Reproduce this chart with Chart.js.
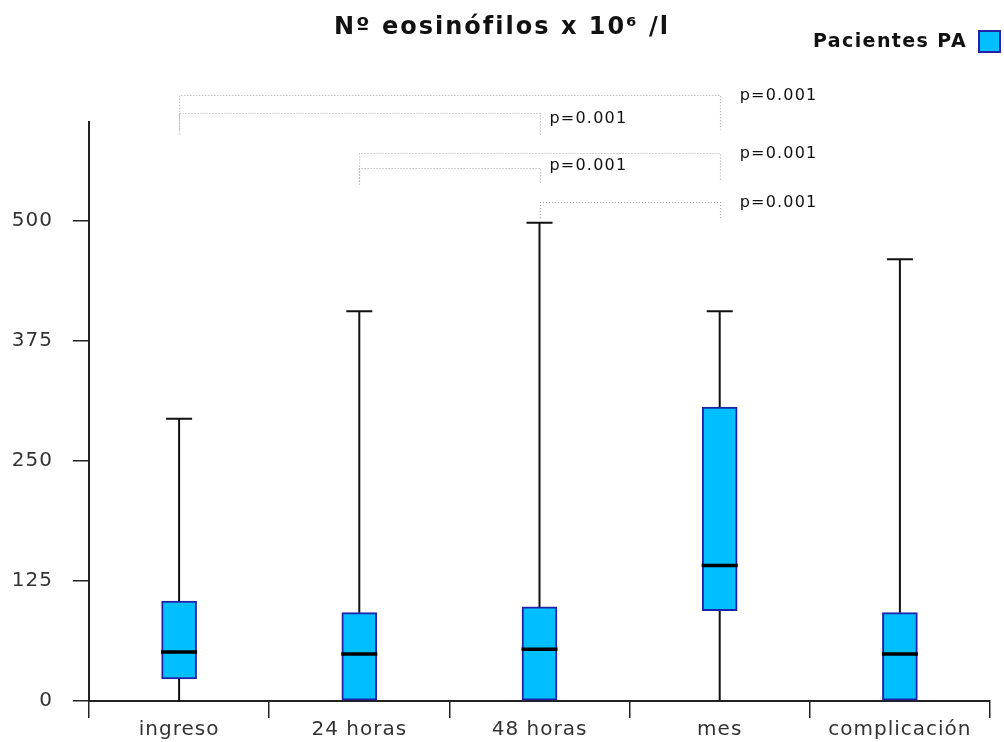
<!DOCTYPE html>
<html><head><meta charset="utf-8">
<script src="https://cdn.jsdelivr.net/npm/chart.js@4/dist/chart.umd.min.js"></script>
<style>html,body{margin:0;padding:0;background:#fff}#wrap{width:1004px;height:742px;position:relative}</style>
</head><body><div id="wrap"><canvas id="c"></canvas></div>
<script>
// ---- data ----
const categories = ['ingreso', '24 horas', '48 horas', 'mes', 'complicación'];
const whiskerLow  = [0, 0, 0, 0, 0];
const q1          = [23, 0, 0, 94, 0];
const median      = [51, 49, 54, 141, 49];
const q3          = [104, 92, 98, 306, 92];
const whiskerHigh = [294, 406, 498, 406, 460];
const yTickValues = [0, 125, 250, 375, 500];
const yMax = 603;
const seriesName = 'Pacientes PA';
const titleText = 'Nº eosinófilos x 10⁶ /l';
// significance comparisons (category index from/to, bracket level in y units, foot level, label)
const compFrom  = [0, 0, 1, 1, 2];
const compTo    = [3, 2, 3, 2, 3];
const compLevel = [631, 612, 571, 555, 520];
const compFoot  = [595, 590, 541, 538, 503];
const compLabel = ['p=0.001', 'p=0.001', 'p=0.001', 'p=0.001', 'p=0.001'];

const FONT = '"DejaVu Sans", Verdana, sans-serif';
const BOX_FILL = '#00bfff';
const BOX_EDGE = '#2222a8';

const boxPlugin = {
  id: 'boxExtras',
  beforeDraw(chart) {
    chart.ctx.letterSpacing = '1px';
  },
  beforeDatasetsDraw(chart) {
    const ctx = chart.ctx, xs = chart.scales.x, ys = chart.scales.y;
    ctx.save();
    ctx.strokeStyle = '#111';
    ctx.lineWidth = 2;
    for (let i = 0; i < categories.length; i++) {
      const x = xs.getPixelForValue(i);
      ctx.beginPath();
      ctx.moveTo(x, ys.getPixelForValue(whiskerHigh[i]));
      ctx.lineTo(x, ys.getPixelForValue(q3[i]));
      ctx.moveTo(x, ys.getPixelForValue(q1[i]));
      ctx.lineTo(x, ys.getPixelForValue(whiskerLow[i]));
      const yt = ys.getPixelForValue(whiskerHigh[i]);
      ctx.moveTo(x - 13, yt);
      ctx.lineTo(x + 13, yt);
      ctx.stroke();
    }
    ctx.restore();
  },
  afterDatasetsDraw(chart) {
    const ctx = chart.ctx, xs = chart.scales.x, ys = chart.scales.y;
    ctx.save();
    ctx.strokeStyle = '#000';
    ctx.lineWidth = 3.5;
    for (let i = 0; i < categories.length; i++) {
      const x = xs.getPixelForValue(i);
      const y = ys.getPixelForValue(median[i]);
      ctx.beginPath();
      ctx.moveTo(x - 18, y);
      ctx.lineTo(x + 18, y);
      ctx.stroke();
    }
    // significance brackets
    ctx.strokeStyle = '#a8a8a8';
    ctx.lineWidth = 1.2;
    ctx.setLineDash([1, 2]);
    for (let k = 0; k < compFrom.length; k++) {
      const xa = Math.round(xs.getPixelForValue(compFrom[k])) + 0.5;
      const xb = Math.round(xs.getPixelForValue(compTo[k])) + 0.5;
      const yl = Math.round(ys.getPixelForValue(compLevel[k])) + 0.5;
      const yf = ys.getPixelForValue(compFoot[k]);
      ctx.beginPath();
      ctx.moveTo(xa, yf); ctx.lineTo(xa, yl); ctx.lineTo(xb, yl); ctx.lineTo(xb, yf);
      ctx.stroke();
    }
    ctx.setLineDash([]);
    ctx.fillStyle = '#111';
    ctx.textBaseline = 'middle';
    ctx.textAlign = 'left';
    ctx.font = '16px ' + FONT;
    ctx.letterSpacing = '1.2px';
    for (let k = 0; k < compFrom.length; k++) {
      const xb = xs.getPixelForValue(compTo[k]);
      const yl = ys.getPixelForValue(compLevel[k]);
      const far = compTo[k] === 3;
      ctx.fillText(compLabel[k], xb + (far ? 20 : 10), yl + (far ? 1 : (compLevel[k] > 600 ? 5 : -2)));
    }
    // title
    ctx.font = 'bold 24px ' + FONT;
    ctx.letterSpacing = '2px';
    ctx.textAlign = 'center';
    ctx.fillStyle = '#111';
    ctx.fillText(titleText, 502, 28);
    // legend
    ctx.font = 'bold 19px ' + FONT;
    ctx.letterSpacing = '1.4px';
    ctx.textAlign = 'right';
    ctx.fillText(seriesName, 967, 42);
    ctx.fillStyle = BOX_FILL;
    ctx.fillRect(979, 31, 21, 21);
    ctx.strokeStyle = BOX_EDGE;
    ctx.lineWidth = 2;
    ctx.strokeRect(979, 31, 21, 21);
    ctx.restore();
  }
};

new Chart(document.getElementById('c'), {
  type: 'bar',
  data: {
    labels: categories,
    datasets: [{
      label: seriesName,
      data: categories.map((_, i) => [q1[i], q3[i]]),
      backgroundColor: BOX_FILL,
      borderColor: BOX_EDGE,
      borderWidth: 2,
      borderSkipped: false,
      barThickness: 35
    }]
  },
  options: {
    responsive: true,
    maintainAspectRatio: false,
    animation: false,
    layout: { padding: { top: 122, right: 14, bottom: 0, left: 0 } },
    plugins: { legend: { display: false }, title: { display: false }, tooltip: { enabled: false } },
    scales: {
      x: {
        offset: true,
        afterFit(s) { s.height = 41; },
        grid: { offset: true, drawOnChartArea: false, drawTicks: true, tickLength: 17, color: '#222', lineWidth: 1.5 },
        border: { display: true, color: '#222', width: 2 },
        ticks: { font: { family: FONT, size: 20 }, color: '#333', padding: 0 }
      },
      y: {
        min: 0, max: yMax,
        afterFit(s) { s.width = 89; },
        afterBuildTicks(s) { s.ticks = yTickValues.map(v => ({ value: v })); },
        grid: { drawOnChartArea: false, drawTicks: true, tickLength: 16, color: '#222', lineWidth: 1.5 },
        border: { display: true, color: '#222', width: 2 },
        ticks: { font: { family: FONT, size: 20 }, color: '#333', padding: 20 }
      }
    }
  },
  plugins: [boxPlugin]
});
</script>
</body></html>
